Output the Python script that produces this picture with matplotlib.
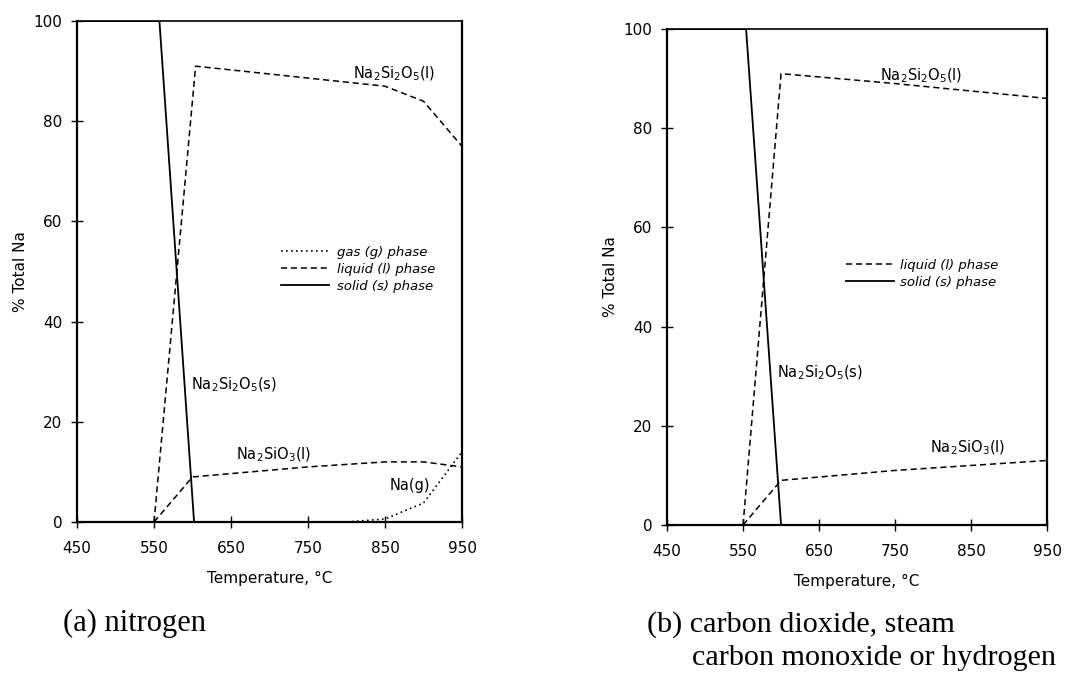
import matplotlib
matplotlib.use("Agg")
import matplotlib.pyplot as plt

plt.rcParams['font.family'] = ['DejaVu Sans']
plt.rcParams['mathtext.fontset'] = 'dejavusans'

# ---- data: (a) nitrogen ----
a_solid_T = [450, 557, 602, 950]
a_solid_v = [100, 100, 0, 0]
a_liqSi2O5_T = [550, 604, 850, 900, 950]
a_liqSi2O5_v = [0, 91, 87, 84, 75]
a_liqSiO3_T = [550, 600, 750, 850, 900, 950]
a_liqSiO3_v = [0, 9, 11, 12, 12, 11]
a_gas_T = [450, 800, 850, 900, 950]
a_gas_v = [0, 0, 0.6, 3.8, 14]

# ---- data: (b) CO2, steam, CO or H2 ----
b_solid_T = [450, 554, 600, 950]
b_solid_v = [100, 100, 0, 0]
b_liqSi2O5_T = [550, 600, 750, 950]
b_liqSi2O5_v = [0, 91, 89, 86]
b_liqSiO3_T = [550, 600, 750, 950]
b_liqSiO3_v = [0, 9, 11, 13]

xticks = [450, 550, 650, 750, 850, 950]
yticks = [0, 20, 40, 60, 80, 100]

fig = plt.figure(figsize=(10.82, 6.76), dpi=100)
axA = fig.add_axes([0.0712, 0.2278, 0.3558, 0.741])
axB = fig.add_axes([0.6165, 0.2234, 0.3512, 0.7337])

DASH = (0, (4, 2.5))
DOT = (0, (1, 2))

def style(ax):
    ax.set_xlim(450, 950)
    ax.set_ylim(0, 100)
    ax.set_xticks(xticks)
    ax.set_yticks(yticks)
    ax.tick_params(direction='inout', length=9, width=1.0, labelsize=11, pad=9)
    ax.tick_params(axis='y', pad=6)
    for s in ax.spines.values():
        s.set_linewidth(1.6)
    ax.spines['top'].set_linewidth(1.2)
    ax.set_xlabel('Temperature, °C', fontsize=11, labelpad=11)
    ax.set_ylabel('% Total Na', fontsize=11, labelpad=4)

# (a)
axA.plot(a_solid_T, a_solid_v, color='black', lw=1.3, ls='-', label='solid (s) phase')
axA.plot(a_liqSi2O5_T, a_liqSi2O5_v, color='black', lw=1.1, ls=DASH, label='liquid (l) phase')
axA.plot(a_liqSiO3_T, a_liqSiO3_v, color='black', lw=1.1, ls=DASH)
axA.plot(a_gas_T, a_gas_v, color='black', lw=1.2, ls=DOT, label='gas (g) phase')
style(axA)
h, l = axA.get_legend_handles_labels()
order = [2, 1, 0]
axA.legend([h[i] for i in order], [l[i] for i in order], frameon=False,
           loc='upper left', bbox_to_anchor=(0.5, 0.575), handlelength=3.6,
           handletextpad=0.6, labelspacing=0.3,
           prop={'style': 'italic', 'size': 9.5})
axA.text(808, 89.5, r'Na$_2$Si$_2$O$_5$(l)', fontsize=10.5, va='center', ha='left')
axA.text(598, 27.3, r'Na$_2$Si$_2$O$_5$(s)', fontsize=10.5, va='center', ha='left')
axA.text(656, 13.4, r'Na$_2$SiO$_3$(l)', fontsize=10.5, va='center', ha='left')
axA.text(856, 7.2, 'Na(g)', fontsize=10.5, va='center', ha='left')

# (b)
axB.plot(b_solid_T, b_solid_v, color='black', lw=1.3, ls='-', label='solid (s) phase')
axB.plot(b_liqSi2O5_T, b_liqSi2O5_v, color='black', lw=1.1, ls=DASH, label='liquid (l) phase')
axB.plot(b_liqSiO3_T, b_liqSiO3_v, color='black', lw=1.1, ls=DASH)
style(axB)
h, l = axB.get_legend_handles_labels()
axB.legend([h[1], h[0]], [l[1], l[0]], frameon=False,
           loc='upper left', bbox_to_anchor=(0.44, 0.56), handlelength=3.6,
           handletextpad=0.5, labelspacing=0.3,
           prop={'style': 'italic', 'size': 9.5})
axB.text(730, 90.5, r'Na$_2$Si$_2$O$_5$(l)', fontsize=10.5, va='center', ha='left')
axB.text(595, 30.6, r'Na$_2$Si$_2$O$_5$(s)', fontsize=10.5, va='center', ha='left')
axB.text(796, 15.5, r'Na$_2$SiO$_3$(l)', fontsize=10.5, va='center', ha='left')

# captions
fig.text(63 / 1082, 1 - 623 / 676, '(a) nitrogen', family='Liberation Serif',
         fontsize=22, va='center', ha='left')
fig.text(647 / 1082, 1 - 625 / 676, '(b) carbon dioxide, steam', family='Liberation Serif',
         fontsize=21.7, va='center', ha='left')
fig.text(692 / 1082, 1 - 658 / 676, 'carbon monoxide or hydrogen', family='Liberation Serif',
         fontsize=21.7, va='center', ha='left')

fig.savefig('out.png', dpi=100)
